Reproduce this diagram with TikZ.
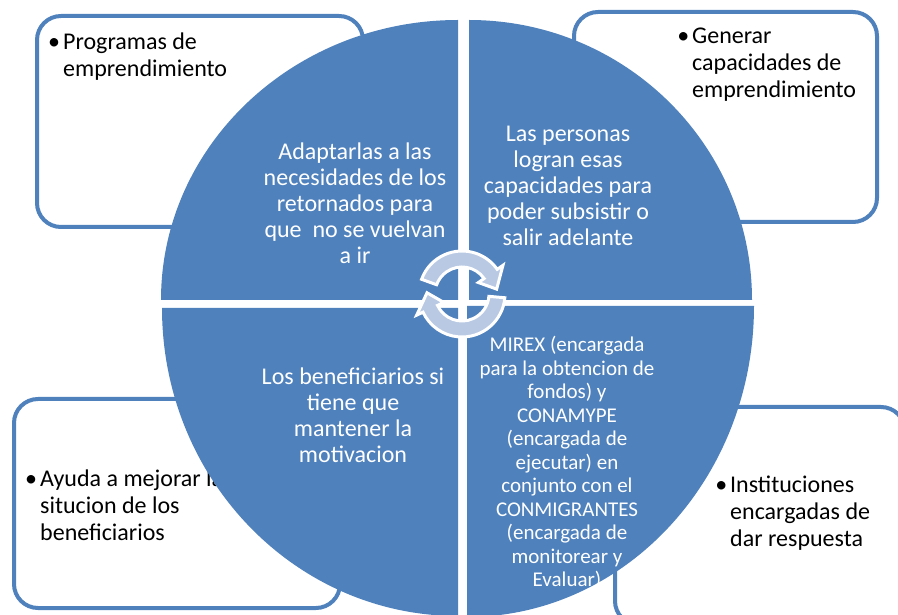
\documentclass[tikz,border=0pt]{standalone}
\usepackage{fontspec}
\setmainfont{Carlito}
\usetikzlibrary{calc}
\definecolor{QuadBlue}{RGB}{79,129,189}
\definecolor{ArrowFill}{RGB}{185,201,228}
\tikzstyle{OuterBox}=[draw=QuadBlue, line width=4pt, fill=white, rounded corners=24pt]
\tikzstyle{Quad}=[fill=QuadBlue]
\tikzstyle{QuadText}=[text=white, align=center, inner sep=0pt, font=\fontsize{24}{26}\selectfont]
\tikzstyle{SmallQuadText}=[QuadText, font=\fontsize{21}{23.5}\selectfont]
\tikzstyle{BoxText}=[text=black, align=left, anchor=west, inner sep=0pt, font=\fontsize{24}{27}\selectfont]
\tikzstyle{CycleArrow}=[fill=ArrowFill, draw=white, line width=3pt, line join=miter]
\newcommand{\blt}{\llap{•\hspace{3pt}}}

\begin{document}
\begin{tikzpicture}[x=1pt,y=1pt]
\useasboundingbox (0,0) rectangle (898,614);
\clip (0,0) rectangle (898,614);
\draw[OuterBox] (37,387) rectangle (363,598);
\draw[OuterBox] (574,392) rectangle (877,602);
\draw[OuterBox] (14,6) rectangle (340,215);
\draw[OuterBox] (615,-11) rectangle (905,207);
\node[BoxText] (ProgText) at (63,557) {\blt Programas de\\emprendimiento};
\node[BoxText] (GenText) at (692,549) {\blt Generar\\capacidades de\\emprendimiento};
\node[BoxText] (AyuText) at (40,109) {\blt Ayuda a mejorar la\\situcion de los\\beneficiarios};
\node[BoxText] (InstText) at (730,101) {\blt Instituciones\\encargadas de\\dar respuesta};

\fill[Quad] (458,314) -- (161,314) arc (180:90:297 and 280) -- cycle;
\fill[Quad] (469,314) -- (469,594) arc (90:0:283 and 280) -- cycle;
\fill[Quad] (458,306) -- (162,306) arc (180:270:296 and 308) -- cycle;
\fill[Quad] (467,308) -- (754,308) arc (0:-90:287 and 311) -- cycle;

\node[QuadText] (AdaptText) at (355,411) {Adaptarlas a las\\necesidades de los\\retornados para\\que\ \ no se vuelvan\\a ir};
\node[QuadText] (PersText) at (568,428) {Las personas\\logran esas\\capacidades para\\poder subsistir o\\salir adelante};
\node[QuadText] (BenefText) at (353,199) {Los beneficiarios si\\tiene que\\mantener la\\motivacion};
\node[SmallQuadText] (MirexText) at (567,151) {MIREX (encargada\\para la obtencion de\\fondos) y\\CONAMYPE\\(encargada de\\ejecutar) en\\conjunto con el\\CONMIGRANTES\\(encargada de\\monitorear y\\Evaluar)};

\begin{scope}[shift={(462,320)}]
\draw[CycleArrow] (160:43) arc (160:35:43) -- (35:50) -- (8:35) -- (35:20) -- (35:27) arc (35:160:27) -- cycle;
\draw[CycleArrow] (-5:43) arc (-5:-155:43) -- (-155:50) -- (-182:35) -- (-155:20) -- (-155:27) arc (-155:-5:27) -- cycle;
\end{scope}
\end{tikzpicture}
\end{document}
